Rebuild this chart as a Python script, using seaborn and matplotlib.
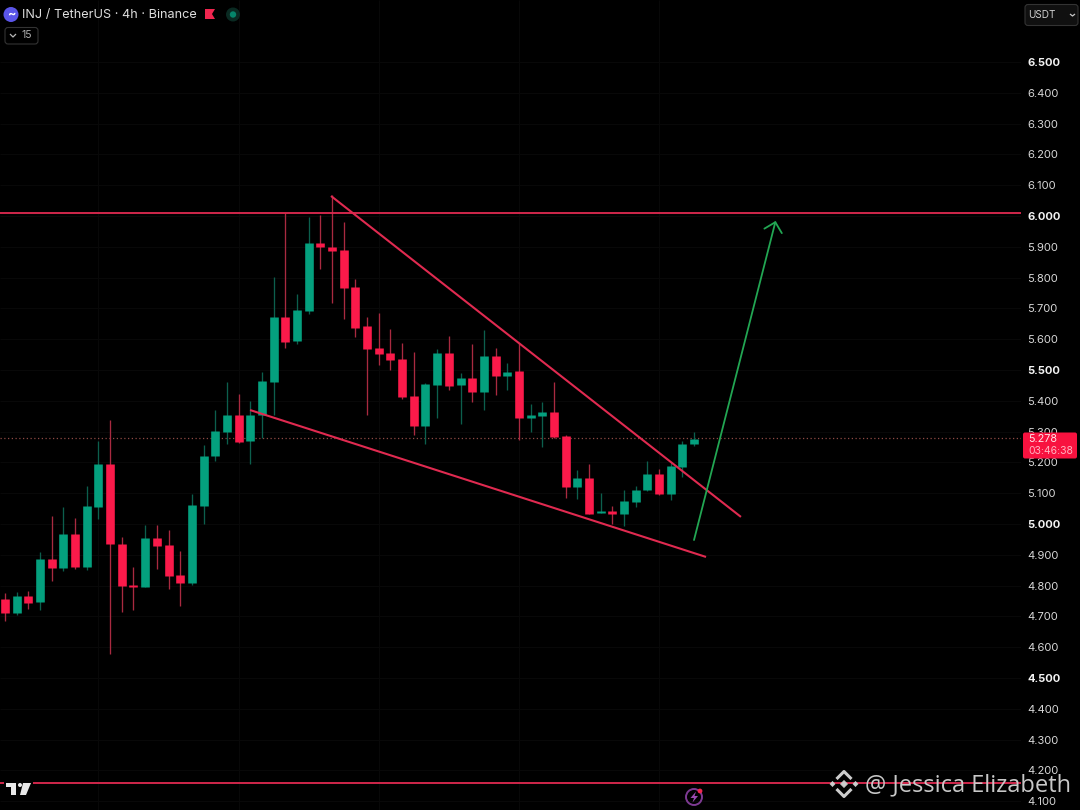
import numpy as np
import pandas as pd
import matplotlib
matplotlib.use("Agg")
import matplotlib.pyplot as plt
from matplotlib.patches import FancyBboxPatch, Circle, Polygon, RegularPolygon, Rectangle
import seaborn as sns

opens = [4.757,4.710,4.766,4.748,4.886,4.857,4.968,4.861,5.056,5.194,4.936,4.802,4.794,4.955,4.932,4.834,
         4.810,5.058,5.221,5.300,5.353,5.268,5.354,5.462,5.672,5.594,5.692,5.913,5.900,5.889,5.769,5.643,
         5.570,5.554,5.535,5.416,5.318,5.450,5.554,5.450,5.474,5.429,5.545,5.481,5.497,5.343,5.351,5.363,
         5.286,5.119,5.148,5.036,5.041,5.034,5.071,5.110,5.162,5.096,5.186,5.261]
closes = [4.710,4.767,4.745,4.886,4.857,4.968,4.861,5.058,5.194,4.935,4.799,4.794,4.955,4.929,4.832,4.810,
          5.062,5.221,5.303,5.355,5.267,5.353,5.464,5.672,5.592,5.695,5.913,5.898,5.886,5.767,5.637,5.567,
          5.553,5.532,5.412,5.319,5.455,5.554,5.448,5.474,5.427,5.545,5.481,5.495,5.343,5.353,5.363,5.281,
          5.119,5.148,5.034,5.041,5.034,5.074,5.110,5.162,5.096,5.188,5.260,5.275]
highs = [4.775,4.779,4.784,4.909,5.026,5.056,5.019,5.123,5.268,5.338,4.959,4.859,4.997,4.997,4.981,4.911,
         5.097,5.256,5.370,5.462,5.422,5.398,5.495,5.801,6.010,5.747,5.996,6.003,6.068,5.981,5.794,5.673,
         5.684,5.632,5.587,5.557,5.459,5.567,5.610,5.491,5.584,5.630,5.570,5.524,5.587,5.389,5.396,5.461,
         5.289,5.175,5.195,5.100,5.058,5.110,5.123,5.203,5.177,5.202,5.269,5.298]
lows = [4.686,4.706,4.725,4.721,4.815,4.848,4.855,4.851,5.017,4.578,4.714,4.721,4.794,4.855,4.788,4.734,
        4.803,5.000,5.203,5.260,5.262,5.195,5.278,5.354,5.570,5.584,5.682,5.827,5.719,5.667,5.608,5.354,
        5.516,5.500,5.406,5.290,5.260,5.344,5.435,5.325,5.397,5.370,5.419,5.435,5.273,5.299,5.249,5.278,
        5.085,5.082,5.034,5.036,4.999,4.995,5.054,5.107,5.093,5.077,5.154,5.253]

tick_values = [4.1,4.2,4.3,4.4,4.5,4.6,4.7,4.8,4.9,5.0,5.1,5.2,5.3,5.4,5.5,5.6,5.7,5.8,5.9,6.0,6.1,6.2,6.3,6.4,6.5]
last_price = 5.278
level_top = 6.010
level_bottom = 4.159
upper_trend_x, upper_trend_y = [27.91, 63.01], [6.065, 5.023]
lower_trend_x, lower_trend_y = [20.98, 60.02], [5.370, 4.893]
arrow_x, arrow_y = [58.99, 65.98], [4.948, 5.984]

BG = "#000000"; UP = "#04a07e"; DOWN = "#fb1a4a"; UPW = "#0c5f4d"; DOWNW = "#a92a40"
LINE = "#e02a50"; ARROW = "#22a653"; TXT = "#d8d8d8"; GRID = "#080808"

sns.set_theme(style="dark", rc={
    "figure.facecolor": BG, "axes.facecolor": BG, "savefig.facecolor": BG,
    "lines.solid_capstyle": "butt", "axes.grid": True, "grid.color": GRID, "grid.linewidth": 0.8,
    "ytick.color": TXT, "axes.edgecolor": BG})
plt.rcParams["font.family"] = ["Inter", "DejaVu Sans"]

W, H = 1080, 810
PANE = 1021
DX = 11.68
fig = plt.figure(figsize=(W/100, H/100), dpi=100)
ax = fig.add_axes([0, 0, PANE/W, 1])
ax.set_zorder(1)

n = len(opens)
idx = np.arange(n)
df = pd.DataFrame({"i": idx, "o": opens, "c": closes, "h": highs, "l": lows})
df["dir"] = np.where(df.c >= df.o, "up", "down")

wicks = pd.concat([df.assign(price=df.h), df.assign(price=df.l)])
sns.lineplot(data=wicks, x="i", y="price", units="i", estimator=None, hue="dir",
             palette={"up": UPW, "down": DOWNW}, linewidth=0.95, legend=False, ax=ax, zorder=2)
bodies = pd.concat([df.assign(price=df.o), df.assign(price=df.c)])
sns.lineplot(data=bodies, x="i", y="price", units="i", estimator=None, hue="dir",
             palette={"up": UP, "down": DOWN}, linewidth=6.2, legend=False, ax=ax, zorder=3)

x_px0 = 5.0
ax.set_xlim(-x_px0/DX, (PANE-x_px0)/DX)
ax.set_ylim(5-(H-524)/308, 5+524/308)

ax.axhline(last_price, color="#8f4a45", lw=0.9, ls=(0, (1, 2)), zorder=1)
for lvl in (level_top, level_bottom):
    ax.axhline(lvl, color=LINE, lw=1.3, zorder=4)
for xs, ys in ((upper_trend_x, upper_trend_y), (lower_trend_x, lower_trend_y)):
    sns.lineplot(x=xs, y=ys, color=LINE, linewidth=1.5, ax=ax, zorder=5, legend=False)
ax.annotate("", xy=(arrow_x[1], arrow_y[1]), xytext=(arrow_x[0], arrow_y[0]),
            arrowprops=dict(arrowstyle="->,head_length=0.36,head_width=0.36", color=ARROW, lw=1.3,
                            shrinkA=0, shrinkB=0, mutation_scale=18), zorder=5)

ax.set_xlabel(""); ax.set_ylabel("")
ax.set_xticks(np.arange(8, n+8, 12))
ax.set_xticklabels([])
ax.tick_params(axis="x", length=0)
ax.yaxis.tick_right()
ax.set_yticks(tick_values)
ax.set_yticklabels([f"{v:.3f}" for v in tick_values])
ax.tick_params(axis="y", length=0, pad=4.5, labelsize=8, labelcolor=TXT)
for v, lab in zip(tick_values, ax.get_yticklabels()):
    if abs(v*2 - round(v*2)) < 1e-6:
        lab.set_fontweight("bold"); lab.set_color("#f2f2f2")
for s in ax.spines.values():
    s.set_visible(False)

# pixel overlay for the chrome of the screenshot
ov = fig.add_axes([0, 0, 1, 1], facecolor="none")
ov.set_zorder(5); ov.set_xlim(0, W); ov.set_ylim(H, 0); ov.axis("off"); ov.grid(False)

# current price tag
ov.add_patch(FancyBboxPatch((1023, 432.5), 54, 26, boxstyle="round,pad=0,rounding_size=2", fc="#f8123f", ec="none"))
ov.text(1028, 439.5, f"{last_price:.3f}", color="#ffe4e8", fontsize=7.8, va="center")
ov.text(1028, 451, "03:46:38", color="#ffb3bf", fontsize=7.5, va="center")

# header
ov.add_patch(Circle((11, 14.5), 7.5, fc="#5a55e8", ec="none"))
ov.text(11, 14.5, "~", color="white", fontsize=9, ha="center", va="center", fontweight="bold")
ov.text(22, 15, "INJ / TetherUS · 4h · Binance", color="#dedede", fontsize=9.15, va="center")
ov.add_patch(Polygon([(205, 9), (215, 9), (212, 14), (215, 19), (205, 19)], fc="#f0264f", ec="none"))
ov.add_patch(Circle((233, 14.5), 7, fc="#0a2a22", ec="none"))
ov.add_patch(Circle((233, 14.5), 3.2, fc="#05856a", ec="none"))
ov.add_patch(FancyBboxPatch((5, 27.5), 33, 16.5, boxstyle="round,pad=0,rounding_size=3", fc=BG, ec="#333333", lw=0.8))
ov.plot([10, 13, 16], [34, 37, 34], color="#b8b8b8", lw=0.9)
ov.text(21, 35.5, "15", color="#b0b0b0", fontsize=7.5, va="center")

# currency selector
ov.add_patch(FancyBboxPatch((1025, 4.5), 53, 21, boxstyle="round,pad=0,rounding_size=3", fc="#101010", ec="#333333", lw=0.8))
ov.text(1028, 15, "USDT", color="#cfcfcf", fontsize=7.2, va="center")
ov.plot([1070, 1072.5, 1075], [14, 16, 14], color="#c8c8c8", lw=0.9)

# TradingView mark
ov.add_patch(Rectangle((4, 780), 29, 17, fc=BG, ec="none"))
LOGOW = "#e8e8e8"
ov.add_patch(Polygon([(6, 783), (16, 783), (16, 795), (11, 795), (11, 787), (6, 787)], fc=LOGOW, ec="none"))
ov.add_patch(Circle((20, 785), 2.0, fc=LOGOW, ec="none"))
ov.add_patch(Polygon([(23, 783), (31, 783), (26, 795), (20, 795)], fc=LOGOW, ec="none"))

# bolt badge
ov.add_patch(Circle((694, 797), 8, fc="none", ec="#7d3a92", lw=1.4))
ov.add_patch(Polygon([(696, 791.5), (690.5, 798), (694, 798), (692.5, 802.5), (698, 796), (694.5, 796)], fc="#9a4ab0", ec="none"))
ov.add_patch(Circle((700, 791), 2.4, fc="#f0264f", ec="none"))

# watermark
LOGO = "#cdcdcd"
ov.plot([836.5, 844, 851.5], [779, 771.5, 779], color=LOGO, lw=2.2)
ov.plot([836.5, 844, 851.5], [789, 796.5, 789], color=LOGO, lw=2.2)
ov.add_patch(RegularPolygon((844, 784), 4, radius=3.6, fc=LOGO, ec=LOGO, lw=0.4))
for cx in (832.5, 855.5):
    ov.add_patch(RegularPolygon((cx, 784), 4, radius=2.6, fc=LOGO, ec=LOGO, lw=0.4))
ov.text(1071, 785, "@ Jessica Elizabeth", color="#c8c8c8", fontsize=17.0, ha="right", va="center",
        family=["Open Sans", "DejaVu Sans"])

fig.savefig("out.png", dpi=100)
